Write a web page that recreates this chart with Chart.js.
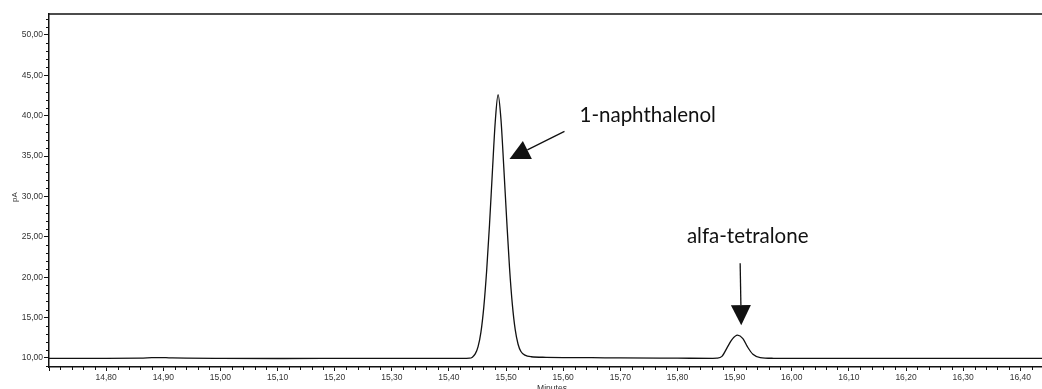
<!DOCTYPE html>
<html>
<head>
<meta charset="utf-8">
<script src="https://cdn.jsdelivr.net/npm/chart.js@4/dist/chart.umd.min.js"></script>
<style>
  html, body { margin: 0; padding: 0; background: #fff; }
  #wrap { width: 1042px; height: 389px; }
</style>
</head>
<body>
<div id="wrap"><canvas id="chrom" width="1042" height="389"></canvas></div>
<script>
// Detector trace: retention time (min) and signal (pA)
const retentionTimes = [
  14.70, 14.80, 14.86, 14.88, 14.895, 14.91, 14.94, 15.00, 15.10, 15.20, 15.30, 15.40,
  15.430, 15.436, 15.441, 15.446, 15.451, 15.456, 15.461, 15.466, 15.471, 15.476, 15.481,
  15.486, 15.491, 15.496, 15.501, 15.506, 15.511, 15.516, 15.521, 15.526, 15.533, 15.544,
  15.57, 15.60, 15.65, 15.70, 15.80, 15.862, 15.869, 15.8778, 15.8876, 15.8953, 15.9051,
  15.9145, 15.9226, 15.932, 15.9448, 15.968, 16.00, 16.10, 16.20, 16.30, 16.44
];
const signalPA = [
  9.96, 9.96, 9.97, 10.03, 10.05, 10.02, 9.97, 9.94, 9.93, 9.94, 9.95, 9.95,
  9.96, 9.97, 10.1, 10.5, 11.4, 13.2, 16.3, 20.8, 26.5, 33.0, 39.2,
  42.6, 39.6, 33.6, 27.2, 21.2, 16.6, 13.5, 11.7, 10.8, 10.35, 10.15,
  10.08, 10.05, 10.03, 10.0, 9.97, 9.95, 9.97, 10.2, 11.37, 12.28, 12.82,
  12.4, 11.37, 10.46, 10.05, 9.96, 9.95, 9.95, 9.95, 9.95, 9.95
];

// Axis ranges and tick steps
const timeRange = [14.70, 16.438];
const signalRange = [8.88, 52.6];
const timeMajorStep = 0.1, timeMinorStep = 0.02;
const signalMajorStep = 5, signalMinorStep = 1;

// Peak labels with their arrows, in data units (time, pA)
const peakNames = ['1-naphthalenol', 'alfa-tetralone'];
const labelAnchors = [[15.6285, 39.28], [15.8165, 24.21]];
const arrowTails = [[15.6022, 38.07], [15.9097, 21.73]];
const arrowTips = [[15.506, 34.65], [15.9116, 14.06]];

const trace = retentionTimes.map((t, i) => ({ x: t, y: signalPA[i] }));

const commaFmt = v => v.toFixed(2).replace('.', ',');
const isMultiple = (v, step) => Math.abs(v / step - Math.round(v / step)) < 1e-6;

const axisFont = { family: '"Liberation Sans", Arial, sans-serif', size: 8.5 };

const frameAndMinorTicks = {
  id: 'frameAndMinorTicks',
  afterDraw(chart) {
    const { ctx, chartArea: a, scales: { x, y } } = chart;
    ctx.save();
    // top frame line
    ctx.strokeStyle = '#111';
    ctx.lineWidth = 1.5;
    ctx.beginPath();
    ctx.moveTo(a.left - 0.75, a.top);
    ctx.lineTo(a.right, a.top);
    ctx.stroke();

    // minor ticks
    ctx.lineWidth = 1;
    ctx.strokeStyle = '#111';
    ctx.beginPath();
    const nT = Math.round((timeRange[1] - timeRange[0]) / timeMinorStep);
    for (let k = 0; k <= nT; k++) {
      const t = timeRange[0] + k * timeMinorStep;
      if (isMultiple(t, timeMajorStep) || t > timeRange[1]) continue;
      const px = Math.round(x.getPixelForValue(t)) + 0.5;
      ctx.moveTo(px, a.bottom);
      ctx.lineTo(px, a.bottom + 3);
    }
    for (let v = Math.ceil(signalRange[0]); v <= signalRange[1]; v += signalMinorStep) {
      if (isMultiple(v, signalMajorStep)) continue;
      const py = Math.round(y.getPixelForValue(v)) + 0.5;
      ctx.moveTo(a.left, py);
      ctx.lineTo(a.left - 3, py);
    }
    ctx.stroke();

    // axis titles
    ctx.fillStyle = '#333';
    ctx.font = '8px "Liberation Sans", Arial, sans-serif';
    ctx.textAlign = 'center';
    ctx.textBaseline = 'middle';
    ctx.save();
    ctx.translate(15, 197);
    ctx.rotate(-Math.PI / 2);
    ctx.fillText('pA', 0, 0);
    ctx.restore();
    ctx.textBaseline = 'top';
    ctx.font = '8.5px "Liberation Sans", Arial, sans-serif';
    ctx.fillText('Minutes', 552, 384);
    ctx.restore();
  }
};

const peakLabels = {
  id: 'peakLabels',
  afterDatasetsDraw(chart) {
    const { ctx, scales: { x, y } } = chart;
    const P = p => [x.getPixelForValue(p[0]), y.getPixelForValue(p[1])];
    ctx.save();
    ctx.fillStyle = '#111';
    ctx.strokeStyle = '#111';
    ctx.font = '20.5px Lato, "Open Sans", sans-serif';
    ctx.textAlign = 'left';
    ctx.textBaseline = 'alphabetic';
    peakNames.forEach((name, i) => {
      const [lx, ly] = P(labelAnchors[i]);
      ctx.fillText(name, lx, ly);
      const [tx, ty] = P(arrowTails[i]);
      const [hx, hy] = P(arrowTips[i]);
      const len = Math.hypot(hx - tx, hy - ty);
      const ux = (hx - tx) / len, uy = (hy - ty) / len;
      const headLen = 20, halfW = 10;
      const bx = hx - ux * headLen, by = hy - uy * headLen;
      ctx.lineWidth = 1.3;
      ctx.beginPath();
      ctx.moveTo(tx, ty);
      ctx.lineTo(bx, by);
      ctx.stroke();
      ctx.beginPath();
      ctx.moveTo(hx, hy);
      ctx.lineTo(bx - uy * halfW, by + ux * halfW);
      ctx.lineTo(bx + uy * halfW, by - ux * halfW);
      ctx.closePath();
      ctx.fill();
    });
    ctx.restore();
  }
};

new Chart(document.getElementById('chrom'), {
  type: 'scatter',
  data: {
    datasets: [{
      data: trace,
      showLine: true,
      borderColor: '#111',
      borderWidth: 1.3,
      pointRadius: 0,
      cubicInterpolationMode: 'monotone',
      fill: false
    }]
  },
  options: {
    responsive: false,
    animation: false,
    events: [],
    layout: { padding: { top: 14, right: 0, bottom: 0, left: 0 } },
    plugins: { legend: { display: false }, tooltip: { enabled: false } },
    scales: {
      x: {
        type: 'linear',
        min: timeRange[0],
        max: timeRange[1],
        afterFit(s) { s.height = 22; },
        border: { display: true, color: '#111', width: 1.5 },
        grid: { drawOnChartArea: false, drawTicks: true, tickLength: 4, color: '#111', lineWidth: 1 },
        ticks: {
          stepSize: timeMajorStep,
          includeBounds: false,
          autoSkip: false,
          maxRotation: 0,
          padding: 2,
          color: '#333',
          font: axisFont,
          callback: v => (v < timeRange[0] + 0.05 ? '' : commaFmt(v))
        }
      },
      y: {
        type: 'linear',
        min: signalRange[0],
        max: signalRange[1],
        afterFit(s) { s.width = 49; },
        border: { display: true, color: '#111', width: 1.5 },
        grid: { drawOnChartArea: false, drawTicks: true, tickLength: 5, color: '#111', lineWidth: 1 },
        ticks: {
          stepSize: signalMajorStep,
          includeBounds: false,
          autoSkip: false,
          padding: 1,
          color: '#333',
          font: axisFont,
          callback: v => commaFmt(v)
        }
      }
    }
  },
  plugins: [frameAndMinorTicks, peakLabels]
});
</script>
</body>
</html>
